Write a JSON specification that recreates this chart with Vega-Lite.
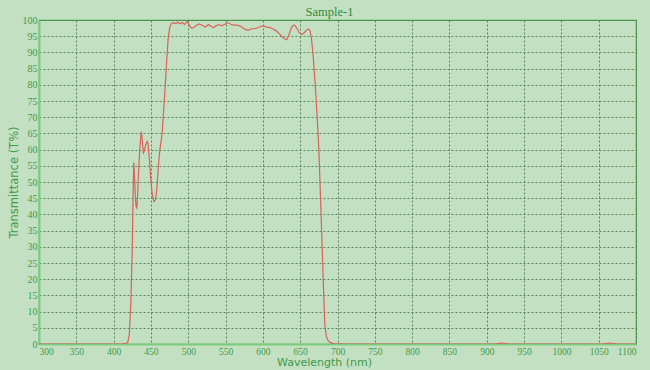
{
  "$schema": "https://vega.github.io/schema/vega-lite/v6.json",
  "width": 597,
  "height": 324,
  "autosize": "none",
  "padding": {"left": 39, "top": 20, "right": 14, "bottom": 26},
  "background": "#c4e0c2",
  "title": {"text": "Sample-1", "font": "Liberation Serif", "fontSize": 12.5, "fontWeight": "normal", "color": "#2e8b3e", "offset": -3, "anchor": "middle", "dx": -8},
  "config": {
    "view": {"stroke": "#4f9e55", "strokeWidth": 1.2, "fill": "#c4e0c2"}
  },
  "data": {"values": [
    {"nm": 300, "t": 0}, {"nm": 410, "t": 0}, {"nm": 416, "t": 0.1}, {"nm": 419, "t": 0.5},
    {"nm": 421, "t": 3}, {"nm": 423, "t": 12}, {"nm": 425, "t": 30}, {"nm": 426, "t": 45},
    {"nm": 427, "t": 56}, {"nm": 428, "t": 52}, {"nm": 429, "t": 46}, {"nm": 430, "t": 42.5},
    {"nm": 431, "t": 42}, {"nm": 432, "t": 45}, {"nm": 433, "t": 51}, {"nm": 435, "t": 60},
    {"nm": 437, "t": 65.5}, {"nm": 438, "t": 64}, {"nm": 439, "t": 61}, {"nm": 440, "t": 59},
    {"nm": 441, "t": 59.5}, {"nm": 443, "t": 61.5}, {"nm": 445, "t": 62.5}, {"nm": 446, "t": 62},
    {"nm": 448, "t": 57}, {"nm": 450, "t": 50}, {"nm": 452, "t": 46}, {"nm": 454, "t": 44},
    {"nm": 456, "t": 44.5}, {"nm": 458, "t": 48}, {"nm": 460, "t": 55}, {"nm": 462, "t": 60},
    {"nm": 465, "t": 65}, {"nm": 467, "t": 72}, {"nm": 469, "t": 79}, {"nm": 471, "t": 87},
    {"nm": 473, "t": 94}, {"nm": 475, "t": 97.5}, {"nm": 477, "t": 98.8}, {"nm": 480, "t": 99.2},
    {"nm": 483, "t": 98.9}, {"nm": 486, "t": 99.3}, {"nm": 489, "t": 98.8}, {"nm": 492, "t": 99.2},
    {"nm": 495, "t": 98.6}, {"nm": 499, "t": 99.6}, {"nm": 501, "t": 98.5}, {"nm": 504, "t": 97.5},
    {"nm": 507, "t": 97.6}, {"nm": 511, "t": 98.4}, {"nm": 515, "t": 98.8}, {"nm": 519, "t": 98.3},
    {"nm": 523, "t": 97.8}, {"nm": 527, "t": 98.6}, {"nm": 531, "t": 98.0}, {"nm": 534, "t": 97.6},
    {"nm": 537, "t": 98.2}, {"nm": 541, "t": 98.6}, {"nm": 545, "t": 98.2}, {"nm": 549, "t": 98.7},
    {"nm": 553, "t": 99.2}, {"nm": 557, "t": 98.7}, {"nm": 561, "t": 98.4}, {"nm": 565, "t": 98.4},
    {"nm": 569, "t": 98.2}, {"nm": 573, "t": 97.6}, {"nm": 577, "t": 97.0}, {"nm": 581, "t": 96.9},
    {"nm": 585, "t": 97.3}, {"nm": 589, "t": 97.3}, {"nm": 593, "t": 97.6}, {"nm": 597, "t": 98.0},
    {"nm": 601, "t": 98.2}, {"nm": 605, "t": 97.8}, {"nm": 609, "t": 97.7}, {"nm": 613, "t": 97.3},
    {"nm": 617, "t": 96.8}, {"nm": 621, "t": 96.0}, {"nm": 625, "t": 95.0}, {"nm": 629, "t": 94.2},
    {"nm": 632, "t": 93.9}, {"nm": 635, "t": 95.5}, {"nm": 638, "t": 97.5}, {"nm": 641, "t": 98.4},
    {"nm": 643, "t": 98.3}, {"nm": 646, "t": 97.3}, {"nm": 649, "t": 96.0}, {"nm": 652, "t": 95.5},
    {"nm": 655, "t": 96.0}, {"nm": 658, "t": 96.8}, {"nm": 661, "t": 97.2}, {"nm": 663, "t": 96.8},
    {"nm": 665, "t": 94.5}, {"nm": 667, "t": 90}, {"nm": 669, "t": 84}, {"nm": 671, "t": 77},
    {"nm": 673, "t": 69}, {"nm": 675, "t": 60}, {"nm": 677, "t": 47}, {"nm": 679, "t": 33},
    {"nm": 681, "t": 19}, {"nm": 683, "t": 6}, {"nm": 685, "t": 2.5}, {"nm": 687, "t": 1.2},
    {"nm": 690, "t": 0.5}, {"nm": 695, "t": 0.1}, {"nm": 710, "t": 0}, {"nm": 910, "t": 0},
    {"nm": 920, "t": 0.3}, {"nm": 930, "t": 0}, {"nm": 1055, "t": 0}, {"nm": 1065, "t": 0.3},
    {"nm": 1075, "t": 0}, {"nm": 1100, "t": 0}
  ]},
  "mark": {"type": "line", "color": "#d9625a", "strokeWidth": 1.2, "clip": true},
  "encoding": {
    "x": {
      "field": "nm", "type": "quantitative",
      "scale": {"domain": [300, 1100], "nice": false, "zero": false},
      "axis": {
        "title": "Wavelength  (nm)", "format": "d", "values": [300,350,400,450,500,550,600,650,700,750,800,850,900,950,1000,1050,1100],
        "labelFont": "Liberation Serif", "labelFontSize": 9.5, "labelColor": "#3f9a48", "labelPadding": 2,
        "titleFont": "DejaVu Sans", "titleFontSize": 11, "titleFontWeight": "normal", "titleColor": "#3f9a48",
        "titleX": 285, "titleY": 12, "titleAlign": "center", "titleBaseline": "top",
        "domainColor": "#7ccb7c", "domainWidth": 2, "ticks": false,
        "grid": true, "gridColor": "#467f49", "gridDash": [2, 2], "gridWidth": 1, "gridOpacity": 0.9
      }
    },
    "y": {
      "field": "t", "type": "quantitative",
      "scale": {"domain": [0, 100], "nice": false},
      "axis": {
        "title": "Transmittance  (T%)", "format": "d", "values": [0,5,10,15,20,25,30,35,40,45,50,55,60,65,70,75,80,85,90,95,100],
        "labelFont": "Liberation Serif", "labelFontSize": 10, "labelColor": "#3f9a48", "labelPadding": 2,
        "titleFont": "DejaVu Sans", "titleFontSize": 11.5, "titleFontWeight": "normal", "titleColor": "#3f9a48", "titlePadding": 3,
        "domainColor": "#7ccb7c", "domainWidth": 2, "ticks": false,
        "grid": true, "gridColor": "#467f49", "gridDash": [2, 2], "gridWidth": 1, "gridOpacity": 0.9
      }
    }
  }
}
